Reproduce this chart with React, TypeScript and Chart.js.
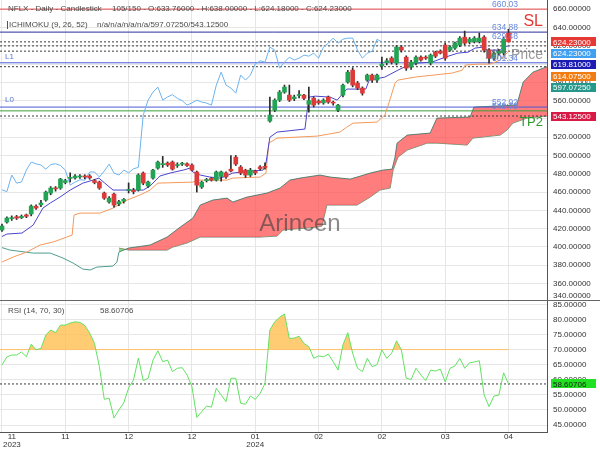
import React, { useEffect, useRef } from 'react';
import { Chart, registerables } from 'chart.js';

Chart.register(...registerables);

const FONT = '"Liberation Sans", Arial, Helvetica, sans-serif';

// ---------- candles (bar index 0..104) ----------
const opens = [
  418.5, 427.2, 431.0, 433.0, 432.0, 435.0, 436.0, 444.5, 446.0, 451.3,
  458.9, 464.0, 464.4, 470.5, 475.0, 475.5, 476.5, 477.0, 477.5, 472.5,
  470.9, 458.9, 449.1, 457.8, 447.0, 450.0, 461.8, 462.0, 462.2, 480.8,
  466.6, 475.3, 486.2, 490.0, 491.7, 492.8, 489.0, 490.5, 491.0, 489.5,
  481.9, 465.5, 472.5, 475.0, 473.1, 477.0, 481.0, 485.0, 498.2, 487.3,
  484.0, 478.6, 483.0, 487.5, 488.0, 537.6, 549.6, 560.5, 569.3, 566.0,
  562.0, 565.5, 566.0, 556.0, 562.7, 559.5, 557.5, 563.8, 558.4, 549.6,
  566.0, 580.2, 593.3, 579.1, 573.7, 582.4, 587.9, 582.4, 598.0, 601.5,
  606.5, 601.0, 618.5, 607.5, 596.6, 601.0, 607.5, 607.5, 601.0, 613.0,
  614.1, 620.7, 615.2, 617.4, 620.7, 629.4, 624.0, 624.5, 624.5, 629.4,
  615.2, 606.4, 612.0, 612.0, 633.76,
];
const highs = [
  425.0, 433.0, 434.0, 434.5, 435.0, 436.0, 446.0, 446.0, 451.0, 461.0,
  466.0, 466.0, 475.0, 474.0, 481.0, 479.0, 479.0, 479.0, 479.0, 474.0,
  472.0, 460.0, 455.0, 459.0, 451.0, 453.0, 470.0, 464.0, 480.0, 482.0,
  472.0, 485.0, 494.0, 499.0, 493.0, 494.0, 492.0, 492.5, 492.0, 491.0,
  483.0, 472.0, 475.0, 476.0, 483.0, 483.0, 482.0, 500.0, 500.0, 489.0,
  485.0, 486.0, 484.0, 489.0, 492.0, 563.8, 562.0, 571.0, 577.0, 577.0,
  566.0, 571.0, 567.0, 574.8, 564.0, 561.0, 562.0, 565.0, 559.5, 556.0,
  578.0, 593.0, 596.0, 581.0, 575.0, 589.0, 589.0, 589.0, 607.5, 606.0,
  608.0, 620.0, 620.0, 609.0, 604.0, 609.0, 609.0, 609.0, 611.0, 614.0,
  615.5, 623.0, 620.0, 624.0, 630.0, 636.0, 629.0, 630.0, 633.8, 631.0,
  617.0, 613.0, 616.0, 629.0, 638.0,
];
const lows = [
  416.9, 426.0, 429.0, 430.0, 431.0, 432.0, 434.0, 441.0, 444.0, 450.0,
  457.0, 461.0, 463.0, 469.0, 471.0, 474.0, 475.0, 474.5, 474.0, 469.0,
  463.0, 452.0, 448.0, 443.6, 445.0, 448.0, 459.0, 458.0, 461.0, 468.0,
  465.0, 474.0, 485.0, 487.0, 488.0, 484.0, 487.0, 489.0, 488.0, 483.0,
  460.0, 464.0, 471.0, 472.0, 472.0, 472.0, 475.0, 482.0, 489.0, 479.0,
  476.0, 477.0, 479.0, 484.0, 485.0, 536.5, 548.0, 559.0, 568.0, 559.0,
  560.0, 563.0, 561.0, 547.4, 553.0, 556.0, 556.0, 557.0, 555.0, 548.0,
  564.0, 579.0, 575.0, 572.0, 566.0, 581.0, 580.0, 580.0, 594.0, 599.0,
  600.0, 599.0, 613.0, 593.0, 594.0, 599.0, 603.0, 605.0, 599.0, 607.0,
  611.0, 604.0, 614.0, 616.0, 619.0, 621.0, 622.0, 623.0, 623.0, 613.0,
  601.0, 604.0, 610.0, 610.0, 624.18,
];
const closes = [
  422.9, 431.6, 432.0, 431.5, 433.5, 433.5, 444.7, 442.5, 448.0, 460.0,
  464.4, 463.5, 474.2, 472.5, 475.5, 477.5, 476.8, 476.5, 475.5, 470.5,
  464.4, 453.4, 453.4, 445.8, 449.5, 452.0, 462.5, 460.5, 478.6, 469.8,
  471.0, 484.0, 492.8, 490.8, 489.6, 485.1, 490.0, 491.0, 489.0, 484.0,
  467.6, 470.9, 473.5, 473.0, 481.9, 482.0, 476.5, 483.0, 490.6, 480.8,
  478.6, 484.0, 481.0, 485.5, 487.0, 544.2, 560.5, 569.3, 574.8, 560.5,
  564.0, 566.5, 562.5, 560.0, 555.1, 557.5, 560.5, 558.4, 557.3, 555.1,
  576.9, 591.1, 576.9, 573.7, 568.2, 587.9, 582.4, 587.9, 600.0, 603.5,
  602.0, 618.5, 615.2, 595.5, 602.1, 607.5, 604.3, 606.4, 609.7, 608.6,
  611.9, 606.4, 618.5, 622.8, 628.3, 622.8, 627.2, 628.3, 628.3, 615.2,
  606.4, 611.9, 614.0, 627.0, 624.23,
];

// ---------- RSI(14) per bar ----------
const rsiValues = [
  64.9, 67.6, 68.2, 68.2, 69.2, 67.6, 71.8, 69.9, 70.4, 74.8,
  76.5, 75.6, 78.1, 78.1, 78.8, 79.2, 79.0, 78.0, 75.5, 72.0,
  64.3, 53.5, 53.9, 47.3, 50.0, 52.3, 57.3, 59.9, 67.2, 59.7,
  60.5, 66.5, 69.6, 66.0, 66.5, 62.7, 63.8, 64.0, 61.6, 57.7,
  47.5, 49.4, 51.3, 50.9, 57.2, 54.9, 52.7, 60.5, 60.5, 52.2,
  51.9, 54.6, 53.5, 55.5, 58.8, 76.5, 79.2, 80.7, 81.8, 73.7,
  73.8, 74.4, 72.0, 71.0, 67.1, 67.9, 67.6, 68.5, 66.0, 63.2,
  71.5, 75.6, 68.8, 63.8, 62.7, 67.1, 64.3, 65.0, 69.9, 67.1,
  68.8, 72.9, 69.9, 60.5, 60.1, 63.8, 61.6, 59.7, 63.2, 62.9,
  63.5, 59.3, 63.8, 64.6, 67.1, 63.8, 65.6, 65.9, 66.3, 54.9,
  51.1, 54.6, 54.9, 62.3, 58.60706,
];

// ---------- Ichimoku lines as [bar position, price] ----------
const tenkan = [
  [0, 411.4], [1, 414.1], [4.1, 415.2], [6.4, 423.9], [8.4, 442.5], [9.9, 448.0], [11.9, 454.5],
  [14, 462.2], [16.6, 469.8], [18.7, 473.1], [19.9, 475.3], [21.1, 469.8], [22.8, 462.2], [29, 462.2],
  [30.4, 466.6], [32.4, 477.5], [34.5, 480.8], [37.2, 484.0], [38.6, 486.2], [39.2, 481.9], [40.7, 478.6],
  [42.7, 476.4], [44.8, 475.3], [46, 477.5], [47.4, 480.8], [50.9, 483.0], [53.6, 484.0], [54.2, 491.7],
  [55, 520.0], [56.5, 525.6], [62.2, 528.9], [63, 563.8], [64.3, 564.9], [67.4, 563.8], [68.8, 560.5],
  [70.8, 572.6], [74.7, 572.6], [75.4, 582.4], [78.6, 585.7], [81.3, 593.3], [83.4, 598.8], [85.4, 601.0],
  [88.3, 602.1], [91, 607.5], [93.6, 611.9], [95.7, 613.0], [97.1, 617.4], [98.8, 618.5], [99.6, 615.2],
  [102.3, 615.2], [102.9, 618.5], [104, 619.81],
];
const kijun = [
  [0, 383.5], [2.3, 389.0], [5.1, 394.4], [7.8, 402.1], [10.5, 405.4], [13.3, 410.8], [14.4, 413.0],
  [14.8, 434.9], [16, 437.0], [20.1, 437.0], [22.8, 442.5], [25.7, 451.3], [28.3, 456.7], [30.4, 462.2],
  [32, 469.8], [39.2, 470.9], [40.7, 473.1], [46.2, 473.1], [47.4, 475.3], [53, 476.4], [54.2, 480.8],
  [54.8, 513.6], [56.5, 519.0], [64.7, 521.2], [67.1, 523.4], [69.4, 525.6], [70.8, 531.0], [72.1, 535.4],
  [77, 536.5], [78.6, 544.2], [79.5, 558.4], [80.7, 579.1], [81.3, 582.4], [84.8, 585.7], [92.4, 590.1],
  [94.5, 593.3], [95.1, 598.8], [97.7, 599.9], [100.2, 599.9], [102.3, 604.3], [104, 614.075],
];
const senkouA = [
  [0, 399.3], [1.6, 396.6], [6.4, 393.3], [9.9, 393.3], [12.5, 387.9], [14.6, 382.4], [16.6, 375.8],
  [18.1, 374.8], [19.5, 378.0], [22.8, 379.1], [23.6, 383.5], [24, 394.4], [26, 398.8], [30.4, 402.1],
  [33.9, 410.8], [36.6, 421.7], [39.2, 431.6], [40.7, 445.8], [43.3, 451.3], [46.2, 453.4], [47.4, 449.1],
  [50.3, 454.5], [54.4, 458.9], [57.1, 464.4], [59.1, 473.1], [61.2, 475.3], [65.3, 478.6], [67.4, 476.4],
  [71.5, 474.2], [72.9, 476.4], [75.6, 480.8], [78.2, 484.0], [80.1, 485.1], [80.7, 498.2], [81.1, 513.4],
  [83.2, 522.3], [87.9, 524.5], [89.3, 540.9], [96.1, 542.0], [96.9, 552.9], [105.7, 555.1], [107, 580.2],
  [109, 591.1], [111.9, 597.0725],
];
const senkouB = [
  [24, 398.8], [26, 396.6], [33.9, 396.6], [35.1, 399.9], [38, 404.3], [40.7, 410.8], [53, 410.8],
  [56.5, 411.9], [57.7, 418.5], [64.7, 421.7], [65.7, 422.8], [66.7, 445.8], [72.9, 445.8], [75.6, 454.5],
  [77.6, 462.2], [79.7, 464.4], [80.3, 484.0], [81.3, 498.2], [83.2, 505.9], [87.3, 513.5], [89.3, 513.5],
  [95.5, 511.4], [96.7, 519.0], [102.3, 522.3], [103.7, 527.8], [104.9, 535.4], [107.8, 540.9], [111.9, 543.125],
];
const CHIKOU_SHIFT = 26;
const CLOUD_START = 24;

// ---------- axes ----------
const priceTicks = [660, 640, 620, 600, 580, 560, 540, 520, 500, 480, 460, 440, 420, 400, 380, 360, 340];
const rsiTicks = [85, 80, 75, 70, 65, 60, 55, 50, 45];
const tickBars = [0, 13, 26, 39, 52, 65, 78, 91, 104];
const tickMonths = ['11', '11', '12', '12', '01', '02', '02', '03', '04'];
const tickYears = ['2023', '', '', '', '2024', '', '', '', ''];

// ---------- levels ----------
const levelValues = [660.03, 634.88, 629.48, 601.34, 552.92, 548.79];
const levelColors = ['#e8474a', '#2b2b9c', '', '#4a5bd6', '#4a5bd6', '#3c9e3c'];
const dottedValues = [624.23, 619.81, 614.075, 597.0725, 543.125];
const tagValues = [624.23, 624.23, 619.81, 614.075, 597.0725, 543.125];
const tagColors = ['#e53935', '#3f9ff0', '#1c1cb4', '#f07c12', '#25988b', '#d81b46'];
const RSI_OB = 70;

const XMIN = -0.41;
const XMAX = 111.9;
const PMIN = 342;
const PMAX = 670;
const RMIN = 42.68;
const RMAX = 86.43;

const GRID = '#e6e6e6';
const AXIS = '#555';

const pts = (arr: number[][]) => arr.map(([x, y]) => ({ x, y }));
const hline = (v: number, x1 = XMAX) => [{ x: XMIN, y: v }, { x: x1, y: v }];

function lineDs(data: any[], color: string, order: number, extra: any = {}) {
  return {
    type: 'line',
    data,
    borderColor: color,
    borderWidth: 1,
    pointRadius: 0,
    tension: 0,
    fill: false,
    order,
    ...extra,
  };
}

function xScale(height: number, showBorder: boolean) {
  return {
    type: 'linear',
    min: XMIN,
    max: XMAX,
    offset: false,
    afterBuildTicks: (s: any) => {
      s.ticks = tickBars.map((v) => ({ value: v }));
    },
    afterFit: (s: any) => {
      s.height = height;
    },
    ticks: { display: false },
    grid: { color: GRID, drawTicks: false, offset: false },
    border: { display: showBorder, color: AXIS },
  };
}

function yScale(min: number, max: number, ticks: number[]) {
  return {
    type: 'linear',
    position: 'right',
    min,
    max,
    afterBuildTicks: (s: any) => {
      s.ticks = ticks.map((v) => ({ value: v }));
    },
    afterFit: (s: any) => {
      s.width = 53;
    },
    ticks: { display: false },
    grid: { color: GRID, drawTicks: false },
    border: { display: true, color: AXIS },
  };
}

function drawTag(ctx: any, y: number, text: string, bg: string, fg: string) {
  ctx.fillStyle = bg;
  ctx.fillRect(551, Math.round(y - 4.5), 45, 9);
  ctx.fillStyle = fg;
  ctx.textAlign = 'left';
  ctx.fillText(text, 553, y + 0.5);
}

const mainDecor = {
  id: 'mainDecor',
  afterDraw(chart: any) {
    const { ctx } = chart;
    const ys = chart.scales.y;
    const py = (v: number) => ys.getPixelForValue(v);
    const last = closes.length - 1;
    ctx.save();
    ctx.textBaseline = 'middle';

    // watermark-like texts
    ctx.textAlign = 'center';
    ctx.font = `24px ${FONT}`;
    ctx.fillStyle = 'rgba(60,60,60,0.6)';
    ctx.fillText('Arincen', 300, 224);

    ctx.textAlign = 'right';
    ctx.font = `14px ${FONT}`;
    ctx.fillStyle = 'rgba(110,110,110,0.7)';
    ctx.fillText('Mkt Price', 543, py(levelValues[2]) + 18);

    ctx.font = `16px ${FONT}`;
    ctx.fillStyle = '#e53935';
    ctx.fillText('SL', 543, py(levelValues[0]) + 12);

    ctx.font = `13px ${FONT}`;
    ctx.fillStyle = '#2e9a2e';
    ctx.fillText('TP2', 543, py(levelValues[5]) + 12);

    // header
    ctx.textAlign = 'left';
    ctx.font = `8px ${FONT}`;
    ctx.fillStyle = '#4a4a4a';
    ctx.fillText('NFLX - Daily - Candlestick', 8, 9);
    ctx.fillText(
      `${closes.length}/150 - O:${opens[last].toFixed(5)} - H:${highs[last].toFixed(5)} - L:${lows[last].toFixed(5)} - C:${closes[last].toFixed(5)}`,
      112,
      9,
    );
    ctx.fillStyle = '#3050d0';
    ctx.fillRect(7, 21, 1, 8);
    ctx.fillStyle = '#4a4a4a';
    ctx.fillText('ICHIMOKU (9, 26, 52)', 9, 25);
    const aLast = senkouA[senkouA.length - 1][1];
    const bLast = senkouB[senkouB.length - 1][1];
    ctx.fillText(`n/a/n/a/n/a/n/a/${aLast.toFixed(5)}/${bLast.toFixed(5)}`, 97, 25);

    // level names
    ctx.fillStyle = '#5a78d8';
    ctx.fillText('L1', 5, py(levelValues[3]) - 6);
    ctx.fillText('L0', 5, py(levelValues[4]) - 7);

    // level values
    ctx.font = `8.5px ${FONT}`;
    ctx.fillStyle = '#6688dd';
    levelValues.forEach((v, k) => {
      const y = k === 2 ? py(v) : py(v) - 4.5;
      ctx.fillText(v.toFixed(2), 492, y);
    });

    // axis labels
    ctx.font = `8px ${FONT}`;
    ctx.fillStyle = '#333';
    priceTicks.forEach((v) => {
      const y = Math.max(5, Math.min(295.5, py(v)));
      ctx.fillText(v.toFixed(5), 553, y);
    });

    // tags
    let prev = -100;
    tagValues.forEach((v, k) => {
      const y = Math.max(py(v), prev + 11.4);
      prev = y;
      drawTag(ctx, y, v.toFixed(5), tagColors[k], '#fff');
    });
    ctx.restore();
  },
};

const rsiDecor = {
  id: 'rsiDecor',
  afterDraw(chart: any) {
    const { ctx } = chart;
    const ys = chart.scales.y;
    const xs = chart.scales.x;
    const py = (v: number) => ys.getPixelForValue(v);
    const lastRsi = rsiValues[rsiValues.length - 1];
    ctx.save();
    ctx.textBaseline = 'middle';
    ctx.font = `8px ${FONT}`;
    ctx.fillStyle = '#4a4a4a';
    ctx.textAlign = 'left';
    ctx.fillText('RSI (14, 70, 30)', 8, 11);
    ctx.fillText(lastRsi.toFixed(5), 100, 11);

    ctx.fillStyle = '#333';
    rsiTicks.forEach((v) => {
      ctx.fillText(v.toFixed(5), 553, py(v));
    });
    drawTag(ctx, py(lastRsi), lastRsi.toFixed(5), '#22e022', '#1a1a1a');

    // x labels
    ctx.fillStyle = '#333';
    ctx.textAlign = 'center';
    tickBars.forEach((b, k) => {
      let x = xs.getPixelForValue(b);
      const w = Math.max(ctx.measureText(tickMonths[k]).width, ctx.measureText(tickYears[k]).width);
      x = Math.max(x, w / 2 + 3);
      ctx.fillText(tickMonths[k], x, 136.5);
      if (tickYears[k]) ctx.fillText(tickYears[k], x, 145);
    });

    // divider between panels
    ctx.fillStyle = '#666';
    ctx.fillRect(0, 0, 600, 1);
    ctx.restore();
  },
};

export default function App() {
  const mainRef = useRef<HTMLCanvasElement>(null);
  const rsiRef = useRef<HTMLCanvasElement>(null);

  useEffect(() => {
    const idx = closes.map((_, i) => i);
    const up = (i: number) => closes[i] >= opens[i];
    const chikou = closes.slice(CHIKOU_SHIFT).map((c, k) => ({ x: k, y: c }));
    const aEarly = senkouA.filter(([x]) => x <= CLOUD_START);
    const aCloud = senkouA.filter(([x]) => x >= CLOUD_START);

    const levelDs = levelValues
      .map((v, k) => (levelColors[k] ? lineDs(hline(v), levelColors[k], 5) : null))
      .filter(Boolean);
    const dottedDs = dottedValues.map((v) => lineDs(hline(v), '#3a3a3a', 6, { borderDash: [2, 2] }));

    const main = new Chart(mainRef.current as HTMLCanvasElement, {
      type: 'line',
      data: {
        datasets: [
          {
            type: 'bar',
            data: idx.map((i) => ({ x: i, y: [opens[i], closes[i]] })),
            backgroundColor: (c: any) => (up(c.dataIndex) ? '#23a455' : '#dd3a3a'),
            borderWidth: 0,
            barThickness: 4,
            grouped: false,
            minBarLength: 1,
            order: 0,
          },
          {
            type: 'bar',
            data: idx.map((i) => ({ x: i, y: [lows[i], highs[i]] })),
            backgroundColor: '#2a2a2a',
            borderWidth: 0,
            barThickness: 1,
            grouped: false,
            order: 1,
          },
          lineDs(pts(tenkan), '#4b45cc', 2),
          lineDs(pts(kijun), '#f5995a', 3),
          lineDs(chikou, '#6db3ef', 4),
          ...levelDs,
          ...dottedDs,
          lineDs(pts(aEarly), '#4f9d8f', 9),
          lineDs(pts(aCloud), 'rgba(60,120,105,0.85)', 10, {
            fill: { target: '+1', above: 'rgba(255,75,75,0.72)', below: 'rgba(110,215,90,0.85)' },
          }),
          lineDs(pts(senkouB), 'rgba(95,110,100,0.8)', 11),
        ] as any,
      },
      options: {
        responsive: false,
        animation: false,
        events: [],
        layout: { padding: 0 },
        plugins: { legend: { display: false }, tooltip: { enabled: false } },
        scales: {
          x: xScale(0, false),
          y: yScale(PMIN, PMAX, priceTicks),
        } as any,
      },
      plugins: [mainDecor],
    });

    const lastRsi = rsiValues[rsiValues.length - 1];
    const rsi = new Chart(rsiRef.current as HTMLCanvasElement, {
      type: 'line',
      data: {
        datasets: [
          lineDs(idx.map((i) => ({ x: i, y: rsiValues[i] })), '#62e262', 0, {
            fill: { value: RSI_OB, above: 'rgba(255,190,80,0.8)', below: 'rgba(0,0,0,0)' },
          }),
          lineDs(hline(RSI_OB, idx.length - 1), '#ffc073', 1),
          lineDs(hline(lastRsi), '#3a3a3a', 2, { borderDash: [2, 2] }),
        ] as any,
      },
      options: {
        responsive: false,
        animation: false,
        events: [],
        layout: { padding: 0 },
        plugins: { legend: { display: false }, tooltip: { enabled: false } },
        scales: {
          x: xScale(18, true),
          y: yScale(RMIN, RMAX, rsiTicks),
        } as any,
      },
      plugins: [rsiDecor],
    });

    return () => {
      main.destroy();
      rsi.destroy();
    };
  }, []);

  return (
    <div style={{ position: 'absolute', left: 0, top: 0, width: 600, height: 450, background: '#fff', overflow: 'hidden' }}>
      <canvas ref={mainRef} width={600} height={300} style={{ position: 'absolute', left: 0, top: 0 }} />
      <canvas ref={rsiRef} width={600} height={150} style={{ position: 'absolute', left: 0, top: 300 }} />
    </div>
  );
}
